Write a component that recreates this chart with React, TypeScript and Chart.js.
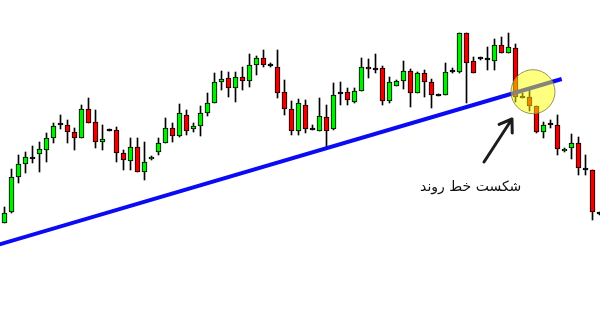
import React, { useEffect, useRef } from "react";
import { Chart, registerables } from "chart.js";

Chart.register(...registerables);

// OHLC series (price units), one entry per candle
const opens = [
  92, 103, 138, 151, 157, 161, 165, 177, 191, 190, 183, 177, 206, 193, 173, 185, 185, 162, 154, 168,
  143, 156, 163, 172, 187, 179, 200, 186, 189, 202, 212, 233, 237, 227, 238, 234, 250, 257, 250, 248,
  223, 206, 184, 210, 186, 184, 198, 186, 222, 223, 213, 224, 248, 246, 247, 214, 229, 234, 244, 222,
  242, 233, 220, 220, 244, 243, 282, 254, 257, 256, 254, 270, 262, 267, 218, 218, 209, 183, 191, 190,
  164, 167, 172, 146, 145, 102,
];
const highs = [
  108, 146, 160, 163, 169, 173, 182, 192, 200, 195, 187, 210, 217, 205, 190, 186, 188, 165, 177, 177,
  173, 159, 177, 197, 192, 211, 205, 192, 209, 222, 242, 244, 243, 243, 248, 261, 259, 265, 252, 265,
  235, 214, 216, 215, 190, 217, 210, 232, 233, 227, 227, 257, 256, 261, 249, 238, 235, 254, 246, 243,
  245, 236, 221, 252, 247, 282, 282, 258, 258, 268, 276, 278, 282, 271, 222, 227, 209, 193, 195, 200,
  167, 181, 178, 160, 145, 103,
];
const lows = [
  92, 102, 132, 142, 152, 143, 153, 172, 186, 172, 165, 177, 192, 167, 165, 184, 153, 145, 145, 143,
  135, 155, 160, 172, 173, 178, 180, 183, 179, 199, 212, 225, 218, 213, 225, 228, 240, 248, 248, 217,
  200, 180, 180, 182, 185, 184, 168, 185, 210, 210, 212, 224, 237, 242, 210, 212, 229, 226, 208, 222,
  218, 207, 219, 220, 242, 242, 212, 242, 255, 245, 245, 262, 262, 213, 217, 204, 182, 177, 187, 160,
  163, 156, 140, 140, 95, 100,
];
const closes = [
  102, 138, 151, 158, 157, 166, 177, 189, 191, 183, 177, 206, 192, 173, 176, 185, 162, 155, 168, 143,
  153, 158, 172, 187, 179, 202, 184, 189, 202, 212, 233, 236, 227, 238, 234, 250, 257, 250, 250, 222,
  206, 184, 212, 186, 186, 199, 184, 220, 222, 215, 224, 248, 246, 246, 214, 233, 234, 244, 222, 242,
  233, 220, 220, 243, 244, 282, 252, 242, 257, 256, 270, 262, 268, 218, 218, 209, 183, 190, 191, 166,
  166, 172, 147, 146, 103, 102,
];

// Trendline anchor points (candle index, price)
const trendX = [-1, 79.6];
const trendY = [70, 236];

// Annotation anchors (candle index, price)
const highlightAt = { x: 75.5, y: 223.3 };
const arrowFrom = { x: 68.5, y: 153 };
const arrowTo = { x: 72.5, y: 196 };
const labelAt = { x: 66.6, y: 128 };
const labelText = "شکست خط روند";

const GREEN = "#00ee00";
const RED = "#ee0000";

const annotationPlugin = {
  id: "breakAnnotations",
  afterDatasetsDraw(chart: any) {
    const { ctx, scales } = chart;
    const xs = scales.x;
    const ys = scales.y;
    // highlight circle
    const cx = xs.getPixelForValue(highlightAt.x);
    const cy = ys.getPixelForValue(highlightAt.y);
    ctx.save();
    ctx.beginPath();
    ctx.arc(cx, cy, 22, 0, Math.PI * 2);
    ctx.fillStyle = "rgba(255,255,0,0.5)";
    ctx.fill();
    ctx.lineWidth = 1;
    ctx.strokeStyle = "rgba(130,130,70,0.85)";
    ctx.stroke();
    ctx.restore();

    // arrow
    const x1 = xs.getPixelForValue(arrowFrom.x);
    const y1 = ys.getPixelForValue(arrowFrom.y);
    const x2 = xs.getPixelForValue(arrowTo.x);
    const y2 = ys.getPixelForValue(arrowTo.y);
    const ang = Math.atan2(y2 - y1, x2 - x1);
    const head = 14;
    const spread = (34 * Math.PI) / 180;
    ctx.save();
    ctx.strokeStyle = "#1c1c1c";
    ctx.lineWidth = 3;
    ctx.lineCap = "round";
    ctx.lineJoin = "round";
    ctx.beginPath();
    ctx.moveTo(x1, y1);
    ctx.lineTo(x2, y2);
    ctx.moveTo(x2 - head * Math.cos(ang - spread), y2 - head * Math.sin(ang - spread));
    ctx.lineTo(x2, y2);
    ctx.lineTo(x2 - head * Math.cos(ang + spread), y2 - head * Math.sin(ang + spread));
    ctx.stroke();
    ctx.restore();

    // label
    ctx.save();
    ctx.fillStyle = "#111";
    ctx.font = "14px 'DejaVu Sans'";
    ctx.textAlign = "center";
    ctx.textBaseline = "middle";
    ctx.direction = "rtl";
    ctx.fillText(labelText, xs.getPixelForValue(labelAt.x), ys.getPixelForValue(labelAt.y));
    ctx.restore();
  },
};

export default function App() {
  const ref = useRef<HTMLCanvasElement | null>(null);

  useEffect(() => {
    if (!ref.current) return;
    const idx = opens.map((_, i) => i);
    const bodies = idx.map((i) => {
      let lo = Math.min(opens[i], closes[i]);
      let hi = Math.max(opens[i], closes[i]);
      if (hi - lo < 2) {
        const m = (hi + lo) / 2;
        lo = m - 1;
        hi = m + 1;
      }
      return { x: i, y: [lo, hi] };
    });
    const bodyColors = idx.map((i) =>
      closes[i] > opens[i] ? GREEN : closes[i] < opens[i] ? RED : "#000"
    );
    const wicks = idx.map((i) => ({ x: i, y: [lows[i], highs[i]] }));
    const trend = trendX.map((x, i) => ({ x, y: trendY[i] }));

    const chart = new Chart(ref.current, {
      type: "bar",
      data: {
        datasets: [
          {
            type: "line",
            data: trend as any,
            borderColor: "#0a0af5",
            borderWidth: 4,
            pointRadius: 0,
            order: 0,
          } as any,
          {
            data: bodies as any,
            backgroundColor: bodyColors,
            borderColor: "#000",
            borderWidth: 1,
            borderSkipped: false,
            barThickness: 5,
            grouped: false,
            order: 1,
          } as any,
          {
            data: wicks as any,
            backgroundColor: "#000",
            borderWidth: 0,
            barThickness: 1,
            grouped: false,
            order: 2,
          } as any,
        ],
      },
      options: {
        animation: false,
        responsive: false,
        maintainAspectRatio: false,
        layout: { padding: 0 },
        plugins: { legend: { display: false }, tooltip: { enabled: false } },
        scales: {
          x: {
            type: "linear",
            display: false,
            offset: false,
            bounds: "ticks",
            min: -4.5 / 7,
            max: -4.5 / 7 + 600 / 7,
          },
          y: { type: "linear", display: false, min: 0, max: 315 },
        },
      },
      plugins: [annotationPlugin],
    });
    return () => chart.destroy();
  }, []);

  return (
    <div style={{ position: "fixed", left: 0, top: 0, width: 600, height: 315, background: "#fff" }}>
      <canvas ref={ref} width={600} height={315} />
    </div>
  );
}
